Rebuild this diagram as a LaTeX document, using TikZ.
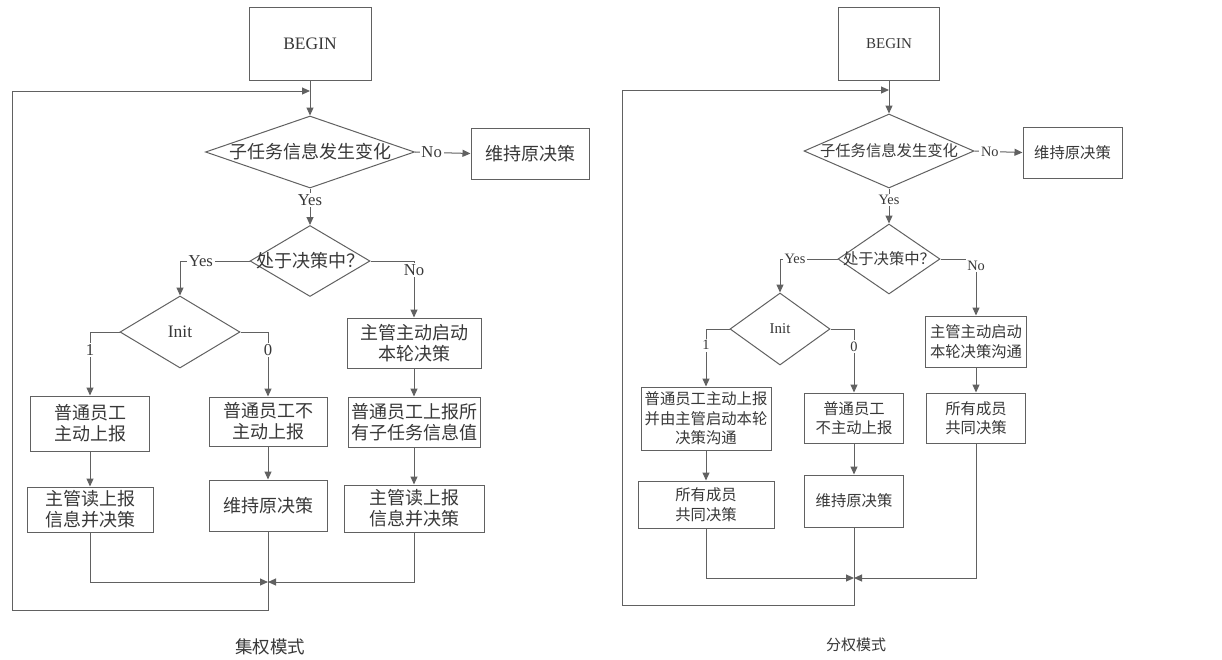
\documentclass[tikz,border=0pt]{standalone}
\usepackage{fontspec}
\setmainfont{Liberation Serif}
\newfontfamily\cjk{Noto Sans CJK SC}
\usetikzlibrary{arrows.meta,shapes.geometric}
\definecolor{lc}{gray}{0.38}
\definecolor{tc}{gray}{0.22}
\tikzset{
  ln/.style={draw=lc, line width=0.6pt},
  arr/.style={ln, -{Triangle[length=4.8pt,width=4.2pt]}},
  wh/.style 2 args={minimum width={#1*0.6pt}, minimum height={#2*0.6pt}},
  boxL/.style={draw=lc, line width=0.6pt, rectangle, inner sep=0pt, align=center, text=tc, font=\cjk\fontsize{10.8}{12.6}\selectfont},
  boxR/.style={draw=lc, line width=0.6pt, rectangle, inner sep=0pt, align=center, text=tc, font=\cjk\fontsize{9.2}{11.7}\selectfont},
  diaL/.style={draw=lc, line width=0.6pt, diamond, inner sep=0pt, text=tc, label={[text=tc, font=\cjk\fontsize{10.8}{12.6}\selectfont]center:#1}},
  diaR/.style={draw=lc, line width=0.6pt, diamond, inner sep=0pt, text=tc, label={[text=tc, font=\cjk\fontsize{9.2}{11.7}\selectfont]center:#1}},
  labL/.style={fill=white, inner sep=1pt, text=tc, font=\fontsize{10}{12}\selectfont},
  labR/.style={fill=white, inner sep=1pt, text=tc, font=\fontsize{8.6}{10}\selectfont},
  capL/.style={text=tc, font=\cjk\fontsize{10.5}{12}\selectfont},
  capR/.style={text=tc, font=\cjk\fontsize{9}{11}\selectfont},
}
\begin{document}
\begin{tikzpicture}[x=0.6pt,y=-0.6pt]
\useasboundingbox (0,0) rectangle (1222,659);
\fill[white] (0,0) rectangle (1222,659);

% ---------------- left: centralised ----------------
\node[boxL, wh={122}{73}, font=\fontsize{10.5}{12}\selectfont] (b1) at (310,43.5) {BEGIN};
\node[diaL={子任务信息发生变化}, wh={209}{72}] (d1) at (310,152) {};
\node[boxL, wh={118}{51}] (k1) at (530,153.5) {维持原决策};
\node[diaL={处于决策中？}, wh={120}{71}] (d2) at (310,261) {};
\node[diaL={}, wh={120}{72}, label={[text=tc, font=\fontsize{10.5}{12}\selectfont]center:Init}] (i1) at (180,332) {};
\node[boxL, wh={119}{55}] (a1) at (90,423.5) {普通员工\\主动上报};
\node[boxL, wh={126}{45}] (a2) at (90,509.5) {主管读上报\\信息并决策};
\node[boxL, wh={118}{49}] (m1) at (268,421.5) {普通员工不\\主动上报};
\node[boxL, wh={118}{51}] (m2) at (268,505.5) {维持原决策};
\node[boxL, wh={134}{50}] (r1) at (414,343) {主管主动启动\\本轮决策};
\node[boxL, wh={132}{50}] (r2) at (414,422) {普通员工上报所\\有子任务信息值};
\node[boxL, wh={140}{47}] (r3) at (414,508.5) {主管读上报\\信息并决策};
\coordinate (t1) at (310,91);
\coordinate (mg1) at (268,582);
\coordinate (lb1) at (12,610);
\node[capL] (cap1) at (270,647) {集权模式};

\draw[arr] (b1) -- (d1);
\draw[arr] (d1.east) -- node[labL, pos=0.3] {No} (k1.west);
\draw[arr] (d1.south) -- node[labL, pos=0.32] {Yes} (d2.north);
\draw[arr] (d2.west) -| node[labL, pos=0.35] {Yes} (i1.north);
\draw[arr] (d2.east) -| node[labL, pos=0.58] {No} (r1.north);
\draw[arr] (i1.west) -| node[labL, pos=0.64] {1} (a1.north);
\draw[arr] (i1.east) -| node[labL, pos=0.64] {0} (m1.north);
\draw[arr] (a1) -- (a2);
\draw[arr] (m1) -- (m2);
\draw[arr] (r1) -- (r2);
\draw[arr] (r2) -- (r3);
\draw[arr] (a2.south) |- (mg1);
\draw[arr] (r3.south) |- (mg1);
\draw[arr] (m2.south) |- (lb1) |- (t1);

% ---------------- right: decentralised ----------------
\node[boxR, wh={101}{73}, font=\fontsize{9}{11}\selectfont] (B2) at (889,43.5) {BEGIN};
\node[diaR={子任务信息发生变化}, wh={170}{74}] (D1) at (889,151) {};
\node[boxR, wh={99}{51}] (K1) at (1072.5,152.5) {维持原决策};
\node[diaR={处于决策中？}, wh={102}{70}] (D2) at (889,259) {};
\node[diaR={}, wh={100}{72}, label={[text=tc, font=\fontsize{9}{11}\selectfont]center:Init}] (I2) at (780,329) {};
\node[boxR, wh={130}{63}] (A1) at (706,418.5) {普通员工主动上报\\并由主管启动本轮\\决策沟通};
\node[boxR, wh={136}{47}] (A2) at (706,504.5) {所有成员\\共同决策};
\node[boxR, wh={99}{50}] (M1) at (854,418) {普通员工\\不主动上报};
\node[boxR, wh={99}{52}] (M2) at (854,501) {维持原决策};
\node[boxR, wh={101}{51}] (R1) at (976,341.5) {主管主动启动\\本轮决策沟通};
\node[boxR, wh={99}{50}] (R2) at (976,418) {所有成员\\共同决策};
\coordinate (t2) at (889,90);
\coordinate (mg2) at (854,578);
\coordinate (lb2) at (622,605);
\node[capR] (cap2) at (856,645) {分权模式};

\draw[arr] (B2) -- (D1);
\draw[arr] (D1.east) -- node[labR, pos=0.32] {No} (K1.west);
\draw[arr] (D1.south) -- node[labR, pos=0.33] {Yes} (D2.north);
\draw[arr] (D2.west) -| node[labR, pos=0.37] {Yes} (I2.north);
\draw[arr] (D2.east) -| node[labR, pos=0.56] {No} (R1.north);
\draw[arr] (I2.west) -| node[labR, pos=0.64] {1} (A1.north);
\draw[arr] (I2.east) -| node[labR, pos=0.64] {0} (M1.north);
\draw[arr] (A1) -- (A2);
\draw[arr] (M1) -- (M2);
\draw[arr] (R1) -- (R2);
\draw[arr] (A2.south) |- (mg2);
\draw[arr] (R2.south) |- (mg2);
\draw[arr] (M2.south) |- (lb2) |- (t2);
\end{tikzpicture}
\end{document}
